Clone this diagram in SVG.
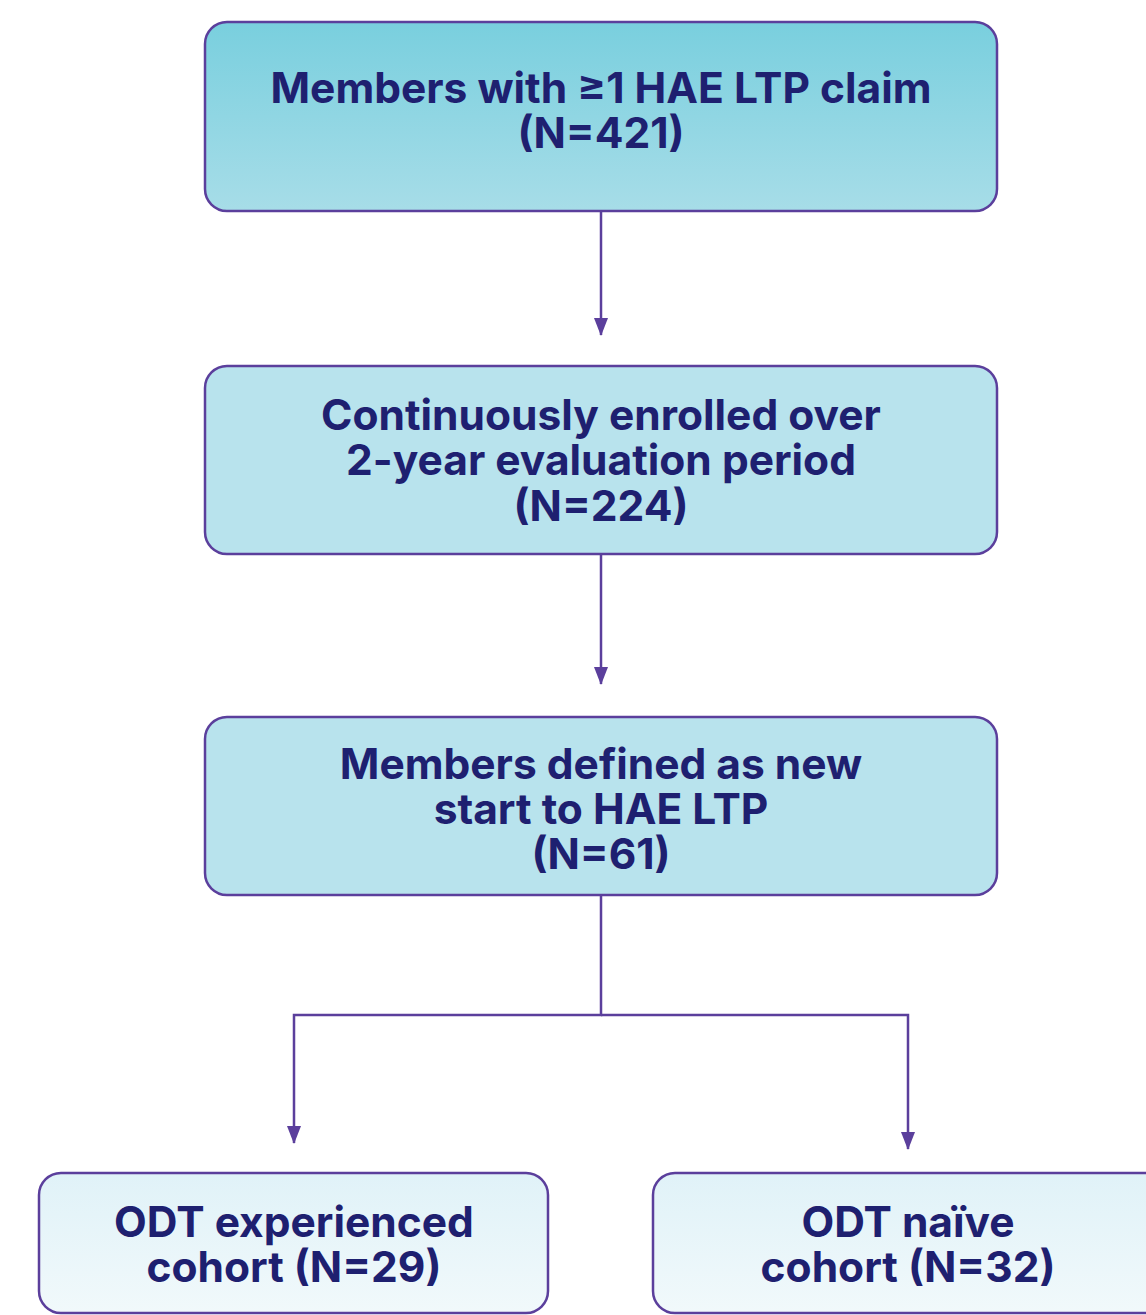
<svg xmlns="http://www.w3.org/2000/svg" width="1146" height="1315" viewBox="0 0 1146 1315">
<defs>
<linearGradient id="g1" x1="0" y1="0" x2="0" y2="1"><stop offset="0" stop-color="#79cfde"/><stop offset="1" stop-color="#a7dde8"/></linearGradient>
<linearGradient id="g3" x1="0" y1="0" x2="0" y2="1"><stop offset="0" stop-color="#e0f2f8"/><stop offset="1" stop-color="#f1f9fb"/></linearGradient>
<marker id="ah" markerWidth="18" markerHeight="14" refX="17" refY="7" orient="auto" markerUnits="userSpaceOnUse" viewBox="0 0 18 14">
<path d="M0,0 L18,7 L0,14 Z" fill="#5b3f9c"/>
</marker>
<style>
.box{stroke:#5b3f9c;stroke-width:2.5}
.t{font-family:Inter,"Noto Sans","Liberation Sans",sans-serif;font-weight:700;font-size:42.5px;fill:#1e2070;text-anchor:middle}
.c{fill:none;stroke:#5b3f9c;stroke-width:2.5}
</style>
</defs>
<rect width="1146" height="1315" fill="#ffffff"/>
<g id="connectors">
<path class="c" d="M601,212 V335" marker-end="url(#ah)"/>
<path class="c" d="M601,555 V684" marker-end="url(#ah)"/>
<path class="c" d="M601,896 V1015 H294 V1143" marker-end="url(#ah)"/>
<path class="c" d="M601,1015 H908 V1149" marker-end="url(#ah)"/>
</g>
<g id="node1">
<rect class="box" x="205" y="22" width="792" height="189" rx="22" fill="url(#g1)"/>
<text class="t" x="601" y="103">Members with ≥1 HAE LTP claim</text>
<text class="t" x="601" y="148">(N=421)</text>
</g>
<g id="node2">
<rect class="box" x="205" y="366" width="792" height="188" rx="22" fill="#b8e3ed"/>
<text class="t" x="601" y="430">Continuously enrolled over</text>
<text class="t" x="601" y="475">2-year evaluation period</text>
<text class="t" x="601" y="521">(N=224)</text>
</g>
<g id="node3">
<rect class="box" x="205" y="717" width="792" height="178" rx="22" fill="#b8e3ed"/>
<text class="t" x="601" y="779">Members defined as new</text>
<text class="t" x="601" y="824">start to HAE LTP</text>
<text class="t" x="601" y="869">(N=61)</text>
</g>
<g id="node4">
<rect class="box" x="39" y="1173" width="509" height="140" rx="22" fill="url(#g3)"/>
<text class="t" x="294" y="1237">ODT experienced</text>
<text class="t" x="294" y="1282">cohort (N=29)</text>
</g>
<g id="node5">
<rect class="box" x="653" y="1173" width="520" height="140" rx="22" fill="url(#g3)"/>
<text class="t" x="908" y="1237">ODT naïve</text>
<text class="t" x="908" y="1282">cohort (N=32)</text>
</g>
</svg>
